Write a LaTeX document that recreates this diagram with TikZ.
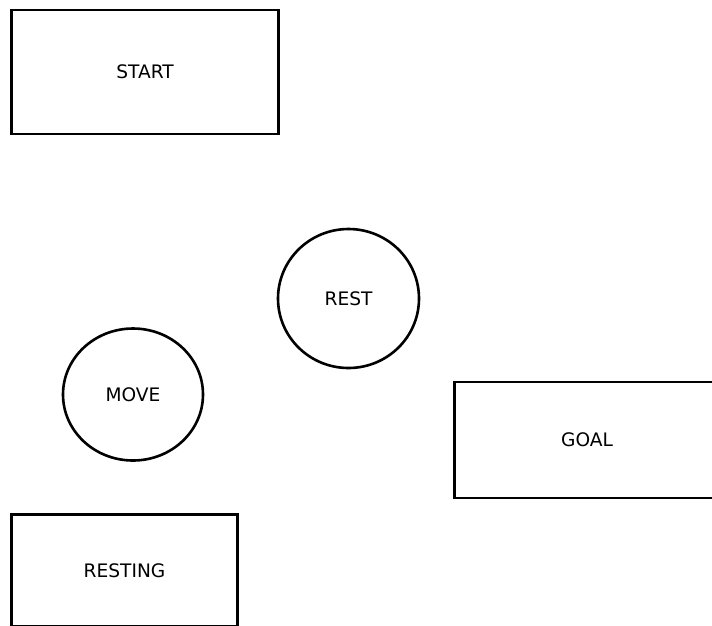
\documentclass[tikz,border=0pt]{standalone}
\usepackage{fontspec}
\setmainfont{DejaVu Sans}
\usetikzlibrary{shapes.geometric}
\begin{document}
\begin{tikzpicture}[x=1pt,y=-1pt,
  every node/.style={font=\fontsize{18.6}{22}\selectfont, line width=2.6pt, draw=black, inner sep=0pt},
  statebox/.style={rectangle},
  stateoval/.style={ellipse}]
  \useasboundingbox (0,0) rectangle (712,625);
  \clip (0,0) rectangle (712,625);
  \node[statebox, minimum width=267, minimum height=124] (start) at (145,72) {START};
  \node[stateoval, minimum width=141, minimum height=139] (rest) at (348.5,298.5) {REST};
  \node[stateoval, minimum width=140, minimum height=132] (move) at (133,394.5) {MOVE};
  \node[statebox, minimum width=265, minimum height=116] (goal) at (587,440) {GOAL};
  \node[statebox, minimum width=226, minimum height=112] (resting) at (124.5,570.5) {RESTING};
\end{tikzpicture}
\end{document}
